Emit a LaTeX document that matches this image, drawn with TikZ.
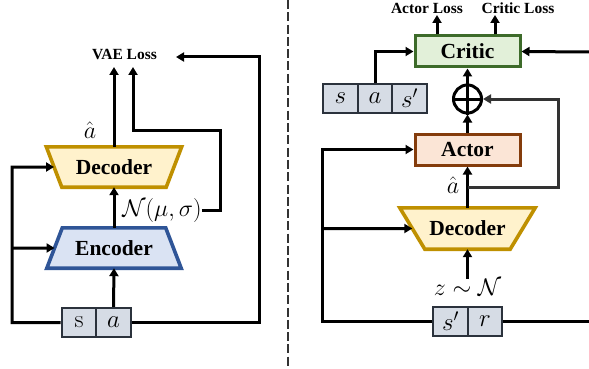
\RequirePackage{fix-cm}
\documentclass[tikz,border=0pt]{standalone}
\usepackage{amsmath}
\usepackage{fontspec}
\newfontfamily\tnr{Liberation Serif}
\usetikzlibrary{arrows.meta,calc}
\definecolor{decfill}{HTML}{FFF2CC}
\definecolor{decline}{HTML}{BF9000}
\definecolor{encfill}{HTML}{DAE3F3}
\definecolor{encline}{HTML}{2F5597}
\definecolor{crfill}{HTML}{E2F0D9}
\definecolor{crline}{HTML}{3D6B2A}
\definecolor{acfill}{HTML}{FBE5D6}
\definecolor{acline}{HTML}{843C0C}
\definecolor{cellfill}{HTML}{D6DCE5}
\definecolor{cellline}{HTML}{2B323C}
\definecolor{fbline}{HTML}{333333}
\begin{document}
\begin{tikzpicture}[x=1pt,y=-1pt,
  arr/.style={line width=3pt,-{Triangle[length=8pt,width=9pt]}},
  plain/.style={line width=3pt},
  boxlbl/.style={font=\tnr\bfseries\fontsize{21.5}{24}\selectfont},
  losslbl/.style={font=\tnr\bfseries\fontsize{15.5}{18}\selectfont, inner sep=0pt},
  mathlbl/.style={font=\fontsize{24}{28}\selectfont, inner sep=0pt},
  cell/.style={draw=cellline, fill=cellfill, line width=2.4pt, minimum width=34.5pt, minimum height=29pt, inner sep=0pt, font=\fontsize{25}{28}\selectfont},
  rbox/.style={line width=3pt, minimum width=105pt, minimum height=31pt, inner sep=0pt, boxlbl},
  trap/.style={inner sep=0pt, boxlbl},
]
\useasboundingbox (0,0) rectangle (589,369);

% divider
\draw[line width=2.8pt, color=fbline, dash pattern=on 9pt off 3.3pt] (288,0) -- (288,369);

% ---------------- left panel ----------------
\node[trap, minimum width=104pt, minimum height=40pt] (dec1) at (114,167) {};
\node[trap, minimum width=103pt, minimum height=40pt] (enc1) at (114,248) {};
\fill[decfill] ($(dec1.north west)+(-15.5,0)$) -- ($(dec1.north east)+(15.5,0)$) -- (dec1.south east) -- (dec1.south west) -- cycle;
\draw[decline, line width=3.6pt] ($(dec1.north west)+(-15.5,0)$) -- ($(dec1.north east)+(15.5,0)$) -- (dec1.south east) -- (dec1.south west) -- cycle;
\fill[encfill] (enc1.north west) -- (enc1.north east) -- ($(enc1.south east)+(15.5,0)$) -- ($(enc1.south west)+(-15.5,0)$) -- cycle;
\draw[encline, line width=3.6pt] (enc1.north west) -- (enc1.north east) -- ($(enc1.south east)+(15.5,0)$) -- ($(enc1.south west)+(-15.5,0)$) -- cycle;
\node[trap] (dec1t) at (dec1) {Decoder};
\node[trap] (enc1t) at (enc1) {Encoder};
\coordinate (dec1l) at ($($(dec1.north west)+(-15.5,0)$)!0.5!(dec1.south west)$);
\coordinate (enc1l) at ($(enc1.north west)!0.5!($(enc1.south west)+(-15.5,0)$)$);

\node[cell] (s1) at (79,322.5) {$\mathrm{s}$};
\node[cell] (a1) at (113.5,322.5) {$a$};

\node[losslbl] (vae) at (124.5,55) {VAE Loss};
\node[mathlbl] (ahat1) at (90,130) {$\hat{a}$};
\node[mathlbl] (nlab) at (162,210) {$\mathcal{N}(\mu,\sigma)$};

\coordinate (vaein) at (176,57);
\draw[arr] (a1.north) -- (enc1.south);
\draw[arr] (enc1.north) -- (dec1.south);
\draw[arr] (dec1.north) -- (114,67);
\draw[arr] (nlab.east) -- (220,210) -- (220,130) -- (133,130) -- (133,67);
\draw[arr] (a1.east) -- (259,322.5) -- (259,57) -- (vaein);
\draw[arr] (s1.west) -- (12,322.5) -- (12,167) -- (dec1l);
\draw[arr] (12,248) -- (enc1l);

% ---------------- right panel ----------------
\node[rbox, draw=crline, fill=crfill] (critic) at (467.5,51.5) {Critic};
\node[rbox, draw=acline, fill=acfill] (actor) at (467.5,149.5) {Actor};
\node[circle, draw, line width=3pt, minimum size=28pt, inner sep=0pt] (op) at (467.5,99) {};
\draw[line width=3pt] (op.north) -- (op.south) (op.west) -- (op.east);

\node[cell] (s2) at (340.5,98.5) {$s$};
\node[cell] (a2) at (375,98.5) {$a$};
\node[cell] (sp2) at (409.5,98.5) {$s'$};

\node[losslbl] (aloss) at (427,8) {Actor Loss};
\node[losslbl] (closs) at (518,8) {Critic Loss};

\node[trap, minimum width=85pt, minimum height=41pt] (dec2) at (467.5,228.5) {};
\fill[decfill] ($(dec2.north west)+(-25,0)$) -- ($(dec2.north east)+(25,0)$) -- (dec2.south east) -- (dec2.south west) -- cycle;
\draw[decline, line width=3.6pt] ($(dec2.north west)+(-25,0)$) -- ($(dec2.north east)+(25,0)$) -- (dec2.south east) -- (dec2.south west) -- cycle;
\node[trap] (dec2t) at (dec2) {Decoder};
\coordinate (dec2l) at ($($(dec2.north west)+(-25,0)$)!0.5!(dec2.south west)$);

\node[cell] (sp3) at (450.5,321.5) {$s'$};
\node[cell] (r3) at (485,321.5) {$r$};

\node[mathlbl] (ahat2) at (453,185) {$\hat{a}$};
\node[mathlbl] (zlab) at (467.5,287) {$z\sim\mathcal{N}$};

\coordinate (rin) at (589,52);
\coordinate (rout) at (589,321.5);

\draw[arr] (critic.north -| 437,0) -- (437,15);
\draw[arr] (critic.north -| 495,0) -- (495,15);
\draw[arr] (rin) -- (critic.east);
\draw[arr] (a2.north) -- (375,51.5) -- (critic.west);
\draw[arr] (op.north) -- (critic.south);
\draw[arr] (actor.north) -- (op.south);
\draw[arr] (dec2.north) -- (actor.south);
\draw[line width=3pt, color=fbline, -{Triangle[length=8pt,width=9pt]}] (467.5,187) -- (558,187) -- (558,99) -- (op.east);
\draw[arr] (zlab.north) -- (dec2.south);
\draw[arr] (sp3.west) -- (322,321.5) -- (322,149.5) -- (actor.west);
\draw[arr] (322,228.5) -- (dec2l);
\draw[plain] (r3.east) -- (rout);
\end{tikzpicture}
\end{document}
